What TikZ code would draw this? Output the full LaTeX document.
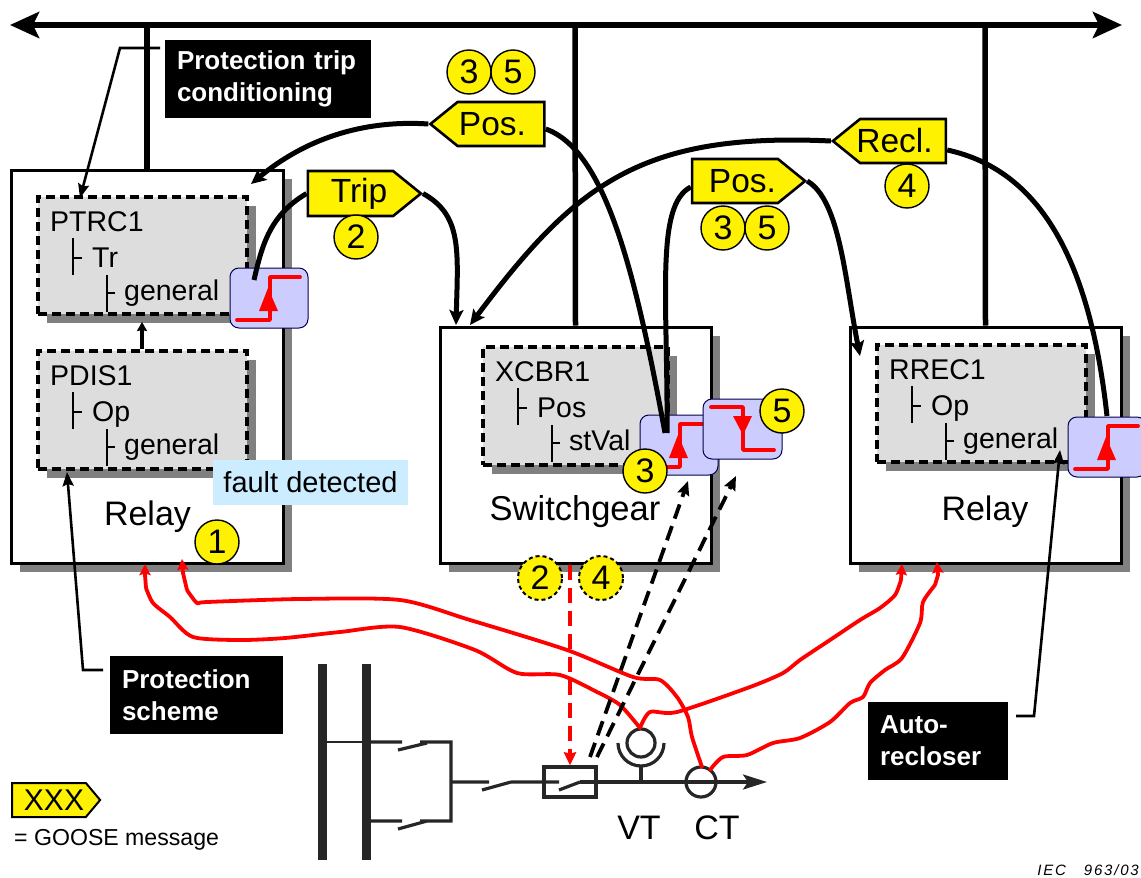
\documentclass[tikz,border=0pt]{standalone}
\usepackage{fontspec}
\setmainfont{Liberation Sans}
\usetikzlibrary{arrows.meta,shadows,shapes.symbols}
\definecolor{shgray}{RGB}{128,128,128}
\definecolor{lngray}{RGB}{221,221,221}
\definecolor{stepblue}{RGB}{204,204,255}
\definecolor{faultblue}{RGB}{204,236,255}
\definecolor{dkline}{RGB}{38,38,38}
\newcommand{\fs}[1]{\fontsize{#1}{#1}\selectfont}
\tikzset{
  devicebox/.style={draw=black,line width=3pt,fill=white,inner sep=0pt,general shadow={fill=shgray,shadow xshift=9pt,shadow yshift=-9pt}},
  lnbox/.style={draw=black,line width=3.2pt,dash pattern=on 9pt off 5pt,fill=lngray,inner sep=0pt,general shadow={fill=shgray,shadow xshift=9pt,shadow yshift=-9pt}},
  lntext/.style={font=\fs{28.5},anchor=base west,inner sep=0pt},
  treeline/.style={line width=1.6pt,black},
  label/.style={fill=black,text=white,font=\bfseries\fs{26},align=left,inner sep=0pt,anchor=center},
  goose/.style={signal,draw=black,line width=2.6pt,fill=yellow,signal from=nowhere,inner sep=0pt,signal pointer angle=78},
  goosetext/.style={font=\fs{33.5},inner sep=0pt},
  num/.style={circle,draw=black,line width=1.4pt,fill=yellow,minimum size=44pt,inner sep=0pt,font=\fs{34}},
  numdash/.style={num,dash pattern=on 4pt off 3pt,line width=2pt},
  stepbox/.style={rounded corners=9pt,draw=black!70!blue,line width=1pt,fill=stepblue,inner sep=0pt},
  wire/.style={line width=5pt,black},
  wirea/.style={wire,-{Stealth[length=15pt,width=14pt,inset=3pt]}},
  thin arrow/.style={line width=2.6pt,black,-{Stealth[length=14pt,width=11pt,inset=2pt]}},
  redw/.style={line width=3.8pt,red,line cap=round,line join=round},
  reda/.style={redw,line cap=butt,-{Stealth[length=11pt,width=11pt,inset=1.5pt]}},
  sld/.style={line width=3.2pt,dkline},
  dashblack/.style={line width=3.8pt,black,dash pattern=on 15pt off 8pt,-{Stealth[length=14pt,width=12pt,inset=2pt]}},
}
\newcommand{\lnnode}[8]{%
  \node[lnbox,minimum width=#4pt,minimum height=#5pt] (#1) at (#2+#4/2,#3+#5/2) {};
  \begin{scope}[shift={(#2,#3)}]
    \node[lntext] (#1-t) at (12,34) {#6};
    \node[lntext] (#1-a) at (54,70) {#7};
    \node[lntext] (#1-b) at (86,103) {#8};
    \draw[treeline] (35,41) -- (35,78) (35,61) -- (44,61);
    \draw[treeline] (69,78) -- (69,115) (69,96) -- (77,96);
  \end{scope}}
\newcommand{\stepsym}[3]{%
  \begin{scope}[shift={(#2,#3)}]
    \node[stepbox,minimum width=78pt,minimum height=60pt] (#1) at (39,30) {};
    \draw[redw,line width=3.8pt] (7,52) -- (40,52) -- (40,9) -- (70,9);
    \fill[red] (38,20) -- (29,43) -- (48,43) -- cycle;
  \end{scope}}
\begin{document}
\begin{tikzpicture}[x=1pt,y=-1pt]
\useasboundingbox (0,0) rectangle (1141,878);
% bus
\coordinate (busL) at (10,25);
\coordinate (busR) at (1122,25);
\coordinate (busA) at (147,25);
\coordinate (busB) at (575,25);
\coordinate (busC) at (985,25);
% devices
\node[devicebox,minimum width=272pt,minimum height=393pt] (relayA) at (147,366.5) {};
\node[devicebox,minimum width=271pt,minimum height=236pt] (swg) at (575.5,445) {};
\node[devicebox,minimum width=271pt,minimum height=236pt] (relayB) at (985.5,445) {};
\draw[line width=6pt,{Stealth[length=29pt,width=26pt,inset=6pt]}-{Stealth[length=29pt,width=26pt,inset=6pt]}] (busL) -- (busR);
\draw[line width=5.5pt] (busA) -- (relayA.north);
\draw[line width=5.5pt] (busB) -- (swg.north);
\draw[line width=5.5pt] (busC) -- (relayB.north);
\node[font=\fs{34},anchor=base,inner sep=0pt] (relayAt) at (147.5,525) {Relay};
\node[font=\fs{34.5},anchor=base,inner sep=0pt] (swgt) at (575,520) {Switchgear};
\node[font=\fs{34},anchor=base,inner sep=0pt] (relayBt) at (985,520) {Relay};
% logical nodes
\lnnode{ptrc}{38}{197}{209}{117}{PTRC1}{Tr}{general}
\lnnode{pdis}{38}{351}{209}{118}{PDIS1}{Op}{general}
\lnnode{xcbr}{483}{347}{185}{118}{XCBR1}{Pos}{stVal}
\lnnode{rrec}{877}{345}{209}{117}{RREC1}{Op}{general}
\node[fill=faultblue,minimum width=195pt,minimum height=45pt,inner sep=0pt,font=\fs{29}] (fault) at (310.5,482.5) {fault detected};
% step symbols
\stepsym{stepA}{230}{268}
\stepsym{stepB}{640}{415}
\node[stepbox,minimum width=79pt,minimum height=60pt] (stepC) at (742.5,429) {};
\draw[redw,line width=3.8pt] (711,407) -- (743,407) -- (743,450) -- (774,450);
\fill[red] (743,435) -- (733,416) -- (752,416) -- cycle;
\stepsym{stepD}{1068}{417}
% goose tags
\node[goose,signal to=west,minimum width=114pt,minimum height=44pt] (posA) at (501,124) {};
\node[goosetext] (posAt) at (492.5,124) {Pos.};
\node[goose,signal to=east,minimum width=113pt,minimum height=45pt] (trip) at (350.5,193.5) {};
\node[goosetext] (tript) at (359,193.5) {Trip};
\node[goose,signal to=east,minimum width=113pt,minimum height=44pt] (posB) at (735,181) {};
\node[goosetext] (posBt) at (742.5,181) {Pos.};
\node[goose,signal to=west,minimum width=113pt,minimum height=44pt] (recl) at (903,141) {};
\node[goosetext] (reclt) at (894.5,141) {Recl.};
\node[goose,signal to=east,minimum width=88pt,minimum height=34pt,line width=2pt,signal pointer angle=100] (xxx) at (49,800) {};
\node[goosetext,font=\fs{30}] (xxxt) at (54,800) {XXX};
\node[font=\fs{23.1},anchor=base west,inner sep=0pt] (gm) at (14,845) {= GOOSE message};
% connector ends
\coordinate (posAend) at (251,184);
\coordinate (blueB1) at (665,433);
\coordinate (blueB2) at (667,433);
\coordinate (tripA) at (254,280);
\coordinate (tripB) at (456,325);
\coordinate (posBend) at (860,356);
\coordinate (reclA) at (470,325);
\coordinate (reclB) at (1107,416);
\draw[wirea] (posA.west) .. controls (370,120) and (310,135) .. (posAend);
\draw[wire] ([yshift=-5pt]posA.east) .. controls (605,150) and (635,270) .. (blueB1);
\draw[wire] (trip.west) .. controls (270,215) and (262,245) .. (tripA);
\draw[wirea] (trip.east) .. controls (462,215) and (458,250) .. (tripB);
\draw[wire] ([yshift=-6pt]posB.west) .. controls (655,205) and (668,300) .. (blueB2);
\draw[wirea] (posB.east) .. controls (840,200) and (845,280) .. (posBend);
\draw[wirea] (recl.west) .. controls (640,132) and (575,185) .. (reclA);
\draw[wire] ([yshift=-9pt]recl.east) .. controls (1040,170) and (1090,260) .. (reclB);
\draw[thin arrow,line width=3.6pt,-{Stealth[length=9pt,width=10pt,inset=1pt]}] (pdis.north -| 142,351) -- (142,322);
% labels
\node[label,minimum width=206pt,minimum height=78pt,text width=182pt] (lblA) at (268,79) {Protection trip\\[6pt]conditioning};
\node[label,minimum width=173pt,minimum height=78pt,text width=149pt] (lblB) at (196.5,695) {Protection\\[6pt]scheme};
\node[label,minimum width=140pt,minimum height=78pt,text width=116pt] (lblC) at (938,741) {Auto-\\[6pt]recloser};
\coordinate (lblAs) at (160,48);
\coordinate (lblAb) at (120,48);
\coordinate (lblBs) at (103,670);
\coordinate (lblBb) at (83,670);
\coordinate (lblCs) at (1016,716);
\coordinate (lblCb) at (1034,716);
\coordinate (tipA) at (80,198);
\coordinate (tipB) at (67,472);
\coordinate (tipC) at (1060,450);
\draw[thin arrow] (lblAs) -- (lblAb) -- (tipA);
\draw[thin arrow] (lblBs) -- (lblBb) -- (tipB);
\draw[thin arrow] (lblCs) -- (lblCb) -- (tipC);
% single-line diagram
\draw[line width=9pt,dkline] (322,664) -- (322,860);
\draw[line width=9pt,dkline] (366,664) -- (366,860);
\draw[line width=2pt,dkline] (326,742) -- (366,742);
\draw[sld] (366,742) -- (402,742) (398,750) -- (427,743) (420,742) -- (451,742) -- (451,821) -- (420,821) (398,829) -- (427,821) (366,821) -- (402,821);
\draw[sld] (451,782) -- (489,782) (482,790) -- (511,782) (511,782) -- (559,782);
\node[draw=dkline,line width=3.2pt,minimum width=52pt,minimum height=30pt,inner sep=0pt] (cb) at (570,782) {};
\draw[sld] (559,790) -- (580,782);
\coordinate (lineEnd) at (767,782);
\coordinate (lineStart) at (580,782);
\draw[sld,-{Stealth[length=24pt,width=15pt,inset=5pt]}] (lineStart) -- (lineEnd);
\node[circle,draw=dkline,line width=3.2pt,minimum size=28pt,inner sep=0pt] (vt) at (641,743) {};
\draw[sld] (618,743) arc[start angle=180,end angle=0,radius=23] ;
\draw[sld] (641,766) -- (641,782);
\node[circle,draw=dkline,line width=3.2pt,minimum size=30pt,inner sep=0pt] (ct) at (701,782) {};
\node[font=\fs{34}] (vtt) at (639,828) {VT};
\node[font=\fs{34}] (ctt) at (717,828) {CT};
% red wires
\coordinate (rA) at (145,564);
\coordinate (rB) at (182,559);
\coordinate (rC) at (902,564);
\coordinate (rD) at (937,562);
\draw[redw] plot[smooth,tension=0.45] coordinates {(146,588)(153,603)(170,617)(193,637)(240,640)(285,638)(340,632)(400,627)(475,650)(517,673)(560,675)(597,692)(620,705)(640,728)};
\draw[reda] (146,588) -- (145,575) -- (rA);
\draw[redw] plot[smooth,tension=0.45] coordinates {(187,590)(197,603)(207,602)(300,599)(400,600)(470,620)(567,650)(633,677)(660,680)(677,697)(688,717)(692,737)(702,767)};
\draw[reda] (187,590) -- (183,573) -- (rB);
\draw[redw] plot[smooth,tension=0.45] coordinates {(640,728)(650,712)(677,712)(750,687)(783,673)(800,660)(830,640)(860,620)(880,608)(895,595)(901,580)};
\draw[reda] (901,580) -- (rC);
\draw[redw] plot[smooth,tension=0.45] coordinates {(710,770)(723,757)(747,755)(773,743)(800,738)(830,722)(850,703)(863,697)(870,683)(885,670)(902,658)(920,623)(923,602)(935,585)};
\draw[reda] (935,585) -- (938,575) -- (rD);
% dashed
\draw[line width=3.8pt,red,dash pattern=on 15pt off 8pt,-{Stealth[length=13pt,width=12pt,inset=1pt]}] (swg.south -| 570,563) -- (cb.north -| 570,772);
\coordinate (dA) at (590,757);
\coordinate (dB) at (597,757);
\coordinate (dAe) at (688,481);
\coordinate (dBe) at (736,476);
\draw[dashblack] (dA) -- (dAe);
\draw[dashblack] (dB) -- (dBe);
% numbers
\node[num] (n3a) at (469,72) {3};
\node[num] (n5a) at (513,72) {5};
\node[num] (n2a) at (356,237) {2};
\node[num] (n3b) at (723,228) {3};
\node[num] (n5b) at (767,228) {5};
\node[num] (n4a) at (907,186) {4};
\node[num] (n1) at (217,542) {1};
\node[num] (n5c) at (782,411) {5};
\node[num] (n3c) at (645,471) {3};
\node[numdash] (n2b) at (540,578) {2};
\node[numdash] (n4b) at (601,578) {4};
\node[anchor=base east,inner sep=0pt,font=\itshape\fs{15}\addfontfeature{LetterSpace=12}] (iec) at (1139,875) {IEC~~~963/03};
\end{tikzpicture}
\end{document}
